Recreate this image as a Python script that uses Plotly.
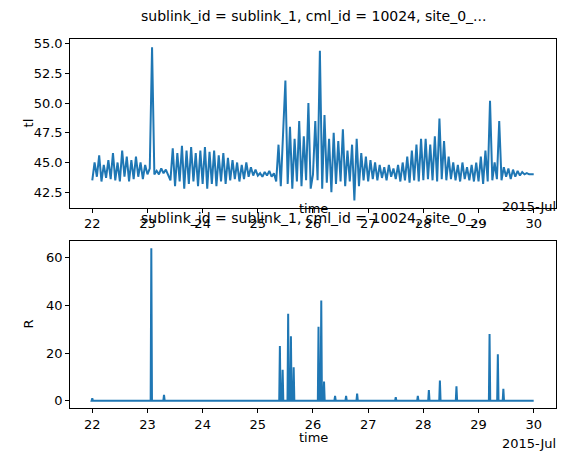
import plotly.graph_objects as go

# tl, hourly from day 22 to day 30
tl = [
    43.5, 45.0, 43.8, 45.6, 43.4, 44.8, 43.7, 45.2, 43.6, 45.8, 43.5, 45.0,
    43.4, 46.0, 43.8, 45.5, 43.4, 45.2, 43.6, 45.5, 43.8, 45.0, 43.6, 44.8,
    44.0, 44.5, 54.7, 44.0, 44.3, 44.0, 44.5, 44.1, 44.4, 44.0, 43.5, 46.2,
    43.0, 45.8, 43.4, 46.4, 42.8, 46.0, 43.2, 46.3, 43.4, 45.8, 43.0, 46.0,
    43.2, 46.3, 42.8, 45.9, 43.2, 46.0, 43.0, 45.6, 43.4, 45.8, 43.2, 45.4,
    43.5, 45.2, 43.6, 45.0, 43.4, 44.8, 43.6, 45.0, 43.8, 44.6, 43.9, 44.4,
    43.9, 44.1, 43.8, 44.2, 43.9, 44.3, 43.8, 44.1, 43.4, 46.5, 43.0, 47.5,
    51.9, 43.2, 48.0, 42.8, 47.0, 43.4, 48.5, 43.0, 47.2, 43.5, 50.0, 42.8,
    44.0, 48.5, 43.5, 54.4, 42.8, 49.0, 43.3, 47.0, 42.5, 47.5, 43.2, 46.8,
    43.4, 47.8, 43.0, 46.0, 43.4, 46.5, 41.8, 47.0, 43.0, 45.8, 43.5, 45.5,
    43.4, 45.2, 43.6, 45.0, 43.5, 44.8, 43.7, 44.6, 43.5, 44.8, 43.8, 44.5,
    43.6, 44.8, 43.4, 45.0, 43.5, 45.5, 43.3, 46.0, 43.5, 46.5, 43.4, 47.0,
    43.5, 47.0, 43.6, 46.5, 43.5, 47.2, 43.4, 48.7, 43.6, 46.8, 43.5, 45.5,
    43.6, 45.0, 43.5, 44.8, 43.4, 45.0, 43.6, 44.6, 43.5, 44.8, 43.4, 45.0,
    43.4, 45.5, 43.2, 46.0, 43.4, 50.2, 43.5, 45.0, 43.6, 48.5, 43.5, 44.6,
    43.8, 44.5, 43.6, 44.4, 43.8, 44.3, 43.9, 44.2, 44.0, 44.1, 44.0, 44.0,
    44.0,
]
tl_time = [22 + i / 24 for i in range(len(tl))]

# R: rain events (day, peak), zero elsewhere
r_time = [22.0, 23.07, 23.3, 25.4, 25.45, 25.55, 25.6, 25.65, 26.1, 26.15, 26.2,
          26.4, 26.6, 26.8, 27.5, 27.9, 28.1, 28.3, 28.6, 29.2, 29.35, 29.45]
r_peak = [1, 64, 2.5, 23, 13, 36.5, 27, 14, 31, 42, 8,
          2, 2, 3, 1.5, 2, 4.5, 8.5, 6, 28, 19.5, 5]

day_ticks = [22, 23, 24, 25, 26, 27, 28, 29, 30]

rx, ry = [22.0], [0]
for t, p in zip(r_time, r_peak):
    rx += [t - 0.012, t, t + 0.012]
    ry += [0, p, 0]
rx.append(30.0)
ry.append(0)

blue = "#1f77b4"
fig = go.Figure()
fig.add_trace(go.Scatter(x=tl_time, y=tl, mode="lines", line=dict(color=blue, width=2),
                         xaxis="x", yaxis="y"))
fig.add_trace(go.Scatter(x=rx, y=ry, mode="lines", line=dict(color=blue, width=2),
                         xaxis="x2", yaxis="y2"))

ax = dict(showline=True, mirror=True, linecolor="black", linewidth=1, ticks="outside",
          ticklen=4, tickcolor="black", showgrid=False, zeroline=False,
          tickfont=dict(size=13, color="black"))
fig.update_layout(
    width=576, height=454, margin=dict(l=0, r=0, t=0, b=0), showlegend=False,
    plot_bgcolor="white", paper_bgcolor="white",
    font=dict(family="DejaVu Sans", color="black"),
    xaxis=dict(ax, domain=[0.108, 0.951], range=[21.6, 30.4], tickvals=day_ticks,
               anchor="y"),
    yaxis=dict(ax, domain=[0.564, 0.938], range=[41.2, 55.4],
               tickvals=[42.5, 45.0, 47.5, 50.0, 52.5, 55.0], tickformat=".1f", anchor="x"),
    xaxis2=dict(ax, domain=[0.108, 0.951], range=[21.6, 30.4], tickvals=day_ticks,
                anchor="y2"),
    yaxis2=dict(ax, domain=[0.119, 0.491], range=[-3.2, 67.2], tickvals=[0, 20, 40, 60],
                anchor="x2"),
)

title = "sublink_id = sublink_1, cml_id = 10024, site_0_..."
ann = [
    dict(x=0.53, y=0.99, text=title, size=14),
    dict(x=0.53, y=0.542, text=title, size=14),
    dict(x=0.53, y=0.562, text="time"),
    dict(x=0.53, y=0.055, text="time"),
    dict(x=0.955, y=0.566, text="2015-Jul", xanchor="right"),
    dict(x=0.955, y=0.042, text="2015-Jul", xanchor="right"),
    dict(x=0.035, y=0.751, text="tl", textangle=-90),
    dict(x=0.035, y=0.305, text="R", textangle=-90),
]
for a in ann:
    a.setdefault("xanchor", "center")
    a.setdefault("yanchor", "middle")
    size = a.pop("size", 13)
    fig.add_annotation(xref="paper", yref="paper", showarrow=False,
                       font=dict(size=size, color="black"), **a)

fig.write_html("out.html")
